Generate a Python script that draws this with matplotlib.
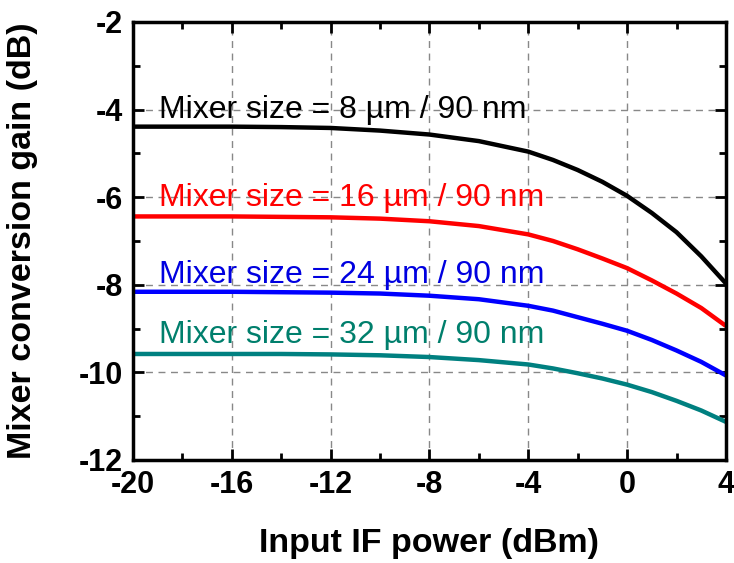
import matplotlib
matplotlib.use("Agg")
import matplotlib.pyplot as plt
from matplotlib.ticker import MultipleLocator

# input IF power (dBm) and conversion gain (dB)
power = [-20, -18, -16, -14, -12, -10, -8, -6, -4, -3, -2, -1, 0, 1, 2, 3, 4]
gain_8um = [-4.39, -4.39, -4.39, -4.40, -4.42, -4.48, -4.57, -4.72, -4.96, -5.15,
            -5.38, -5.65, -5.97, -6.36, -6.80, -7.35, -7.97]
gain_16um = [-6.44, -6.44, -6.44, -6.45, -6.46, -6.49, -6.55, -6.66, -6.85, -7.00,
             -7.19, -7.40, -7.62, -7.90, -8.20, -8.53, -8.94]
gain_24um = [-8.16, -8.16, -8.16, -8.17, -8.18, -8.20, -8.25, -8.33, -8.48, -8.59,
             -8.74, -8.89, -9.05, -9.26, -9.50, -9.76, -10.07]
gain_32um = [-9.58, -9.58, -9.58, -9.58, -9.59, -9.61, -9.65, -9.72, -9.82, -9.91,
             -10.02, -10.14, -10.28, -10.45, -10.65, -10.87, -11.13]

labels = ["Mixer size = 8 \u00b5m / 90 nm",
          "Mixer size = 16 \u00b5m / 90 nm",
          "Mixer size = 24 \u00b5m / 90 nm",
          "Mixer size = 32 \u00b5m / 90 nm"]
label_y = [-4.19, -6.2, -7.96, -9.33]

plt.rcParams["font.family"] = ["Liberation Sans", "DejaVu Sans"]
plt.rcParams["axes.unicode_minus"] = False

fig = plt.figure(figsize=(7.34, 5.63), dpi=100)
ax = fig.add_axes([0.181, 0.183, 0.808, 0.778])

series = [gain_8um, gain_16um, gain_24um, gain_32um]
line_colors = ["black", "#ff0000", "#0000ff", "#008080"]
text_colors = ["black", "#ff0000", "#0000e0", "#007f6c"]

for g, lc, tc, lab, ly in zip(series, line_colors, text_colors, labels, label_y):
    ax.plot(power, g, color=lc, lw=3.2, solid_capstyle="butt", solid_joinstyle="round")
    ax.text(-18.95, ly, lab, color=tc, fontsize=23, ha="left", va="baseline")

ax.set_xlim(-20, 4)
ax.set_ylim(-12, -2)
ax.xaxis.set_major_locator(MultipleLocator(4))
ax.xaxis.set_minor_locator(MultipleLocator(2))
ax.yaxis.set_major_locator(MultipleLocator(2))
ax.yaxis.set_minor_locator(MultipleLocator(1))
ax.grid(True, which="major", color="#888888", ls=(0, (5, 4)), lw=1)

ax.tick_params(which="both", direction="in", top=True, right=True, width=2)
ax.tick_params(which="major", length=8, labelsize=22, pad=7)
ax.tick_params(which="minor", length=5)
for lab in ax.get_xticklabels() + ax.get_yticklabels():
    lab.set_fontweight("bold")
for s in ax.spines.values():
    s.set_linewidth(2.5)

ax.set_xlabel("Input IF power (dBm)", fontsize=24.5, fontweight="bold")
ax.set_ylabel("Mixer conversion gain (dB)", fontsize=24.5, fontweight="bold")
ax.xaxis.set_label_coords(0.5, -0.155)
ax.yaxis.set_label_coords(-0.16, 0.5)

fig.savefig("out.png", dpi=100)
